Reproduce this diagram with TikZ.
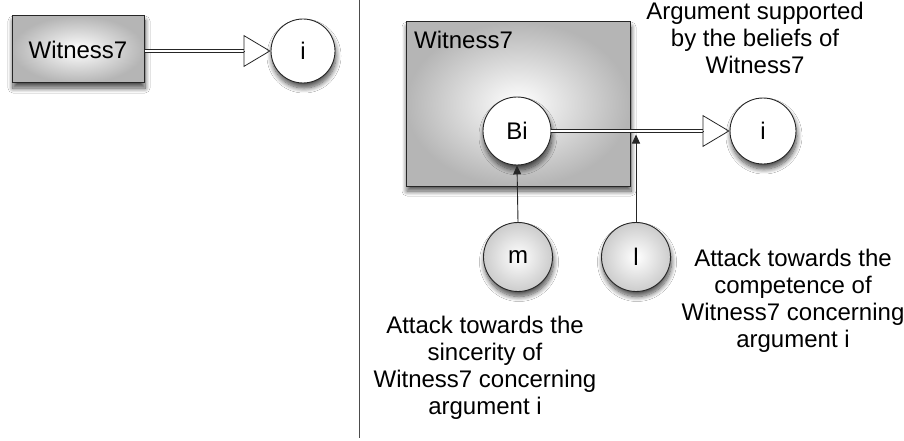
\documentclass[tikz,border=0pt]{standalone}
\usepackage{fontspec}
\setmainfont{Liberation Sans}
\usetikzlibrary{arrows.meta,shadows.blur,calc}
\begin{document}
\begin{tikzpicture}[x=1pt,y=-1pt,
  every node/.style={font=\fontsize{24}{27}\selectfont},
  shd/.style={blur shadow={shadow xshift=1pt, shadow yshift=-5pt, shadow blur radius=5pt, shadow blur steps=10, shadow opacity=70}},
  wbox/.style={draw=black!85, line width=1pt, inner color=white, outer color=black!29, shd},
  wcirc/.style={circle, draw=black!85, line width=0.9pt, fill=white, minimum size=64pt, inner sep=0pt, shd},
  gcirc/.style={wcirc, fill=none, inner color=white, outer color=black!20},
  dbl/.style={draw=black!85, double=white, double distance=2.6pt, line width=0.8pt},
  otip/.style={draw=black!85, line width=0.8pt, -{Triangle[open, length=27pt, width=32pt]}},
  att/.style={draw=black!85, line width=0.9pt, -{Triangle[length=9pt, width=8pt]}},
  lbl/.style={align=center, inner sep=0pt}]
\useasboundingbox (0,0) rectangle (904,441);
\fill[white] (0,0) rectangle (904,441);
% divider
\draw[black!70, line width=1pt] (359,0) -- (359,438);
% left part
\node[wbox, minimum width=132pt, minimum height=67pt] (w1) at (78,49.5) {Witness7};
\node[wcirc] (i1) at (303,51) {i};
\coordinate (t1) at ($(i1.west)+(-27,0)$);
\draw[dbl] (w1.east |- i1) -- (t1);
\draw[otip] (t1) -- (i1.west);
% right part
\node[wbox, minimum width=224pt, minimum height=164pt] (w2) at (518,104) {};
\node[anchor=north west, inner sep=0pt] (w2l) at (414,31) {Witness7};
\node[wcirc, minimum size=68pt] (bi) at (517,131) {Bi};
\node[wcirc, minimum size=66pt] (i2) at (763,131) {i};
\coordinate (t2) at ($(i2.west)+(-27,0)$);
\draw[dbl] (bi.east) -- (t2);
\draw[otip] (t2) -- (i2.west);
\node[gcirc, minimum size=69pt] (m) at (518,257) {m};
\node[gcirc, minimum size=69pt] (l) at (636,257) {l};
\coordinate (lt) at (l.north |- bi.east);
\draw[att] (m.north) -- (bi.south);
\draw[att, shorten >=3.5pt] (l.north) -- (lt);
% labels
\node[lbl] (la) at (755,38) {Argument supported\\by the beliefs of\\Witness7};
\node[lbl] (lb) at (793,300.5) {Attack towards the\\competence of\\Witness7 concerning\\argument i};
\node[lbl] (lc) at (485,367.5) {Attack towards the\\sincerity of\\Witness7 concerning\\argument i};
\end{tikzpicture}
\end{document}
